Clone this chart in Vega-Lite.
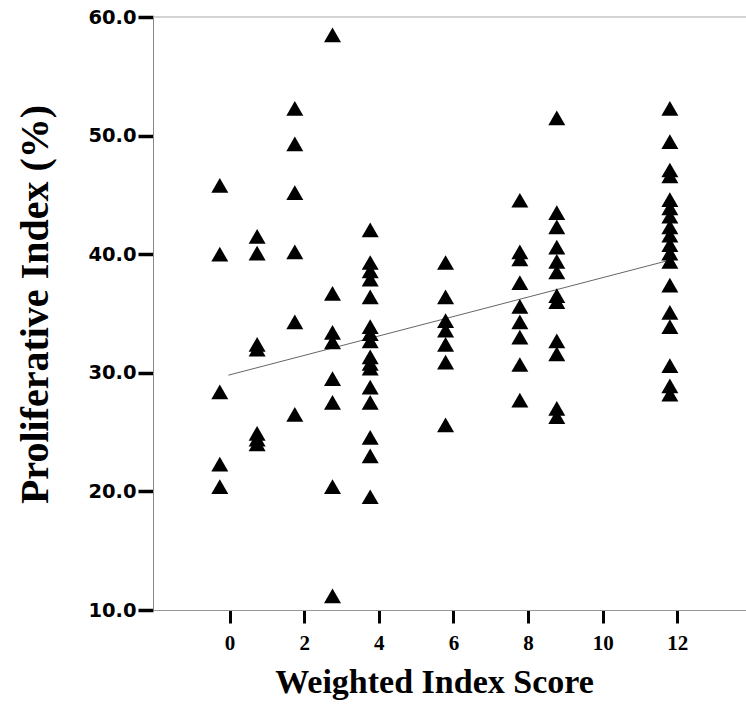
{
  "$schema": "https://vega.github.io/schema/vega-lite/v6.json",
  "width": 593,
  "height": 593,
  "autosize": {"type": "none"},
  "padding": {"left": 153, "top": 17, "right": 0, "bottom": 103},
  "background": "white",
  "config": {"view": {"stroke": null}},
  "datasets": {
    "points": [
      {"score": -0.26, "pi": 45.8}, {"score": -0.26, "pi": 40.0}, {"score": -0.26, "pi": 28.4}, {"score": -0.26, "pi": 22.3}, {"score": -0.26, "pi": 20.4},
      {"score": 0.74, "pi": 41.5}, {"score": 0.74, "pi": 40.1}, {"score": 0.74, "pi": 32.4}, {"score": 0.74, "pi": 32.0}, {"score": 0.74, "pi": 24.9}, {"score": 0.74, "pi": 24.4}, {"score": 0.74, "pi": 24.0},
      {"score": 1.75, "pi": 52.3}, {"score": 1.75, "pi": 49.3}, {"score": 1.75, "pi": 45.2}, {"score": 1.75, "pi": 40.2}, {"score": 1.75, "pi": 34.3}, {"score": 1.75, "pi": 26.5},
      {"score": 2.76, "pi": 58.5}, {"score": 2.76, "pi": 36.7}, {"score": 2.76, "pi": 33.4}, {"score": 2.76, "pi": 32.6}, {"score": 2.76, "pi": 29.5}, {"score": 2.76, "pi": 27.5}, {"score": 2.76, "pi": 20.4}, {"score": 2.76, "pi": 11.2},
      {"score": 3.77, "pi": 42.05}, {"score": 3.77, "pi": 39.3}, {"score": 3.77, "pi": 38.6}, {"score": 3.77, "pi": 37.9}, {"score": 3.77, "pi": 36.4}, {"score": 3.77, "pi": 33.9}, {"score": 3.77, "pi": 33.3}, {"score": 3.77, "pi": 32.7}, {"score": 3.77, "pi": 31.35}, {"score": 3.77, "pi": 30.8}, {"score": 3.77, "pi": 30.4}, {"score": 3.77, "pi": 28.8}, {"score": 3.77, "pi": 27.5}, {"score": 3.77, "pi": 24.55}, {"score": 3.77, "pi": 23.0}, {"score": 3.77, "pi": 19.55},
      {"score": 5.79, "pi": 39.3}, {"score": 5.79, "pi": 36.4}, {"score": 5.79, "pi": 34.4}, {"score": 5.79, "pi": 33.6}, {"score": 5.79, "pi": 32.4}, {"score": 5.79, "pi": 30.9}, {"score": 5.79, "pi": 25.6},
      {"score": 7.78, "pi": 44.55}, {"score": 7.78, "pi": 40.2}, {"score": 7.78, "pi": 39.6}, {"score": 7.78, "pi": 37.6}, {"score": 7.78, "pi": 35.6}, {"score": 7.78, "pi": 34.3}, {"score": 7.78, "pi": 33.0}, {"score": 7.78, "pi": 30.7}, {"score": 7.78, "pi": 27.7},
      {"score": 8.77, "pi": 51.5}, {"score": 8.77, "pi": 43.5}, {"score": 8.77, "pi": 42.3}, {"score": 8.77, "pi": 40.6}, {"score": 8.77, "pi": 39.4}, {"score": 8.77, "pi": 38.5}, {"score": 8.77, "pi": 36.5}, {"score": 8.77, "pi": 36.0}, {"score": 8.77, "pi": 32.7}, {"score": 8.77, "pi": 31.6}, {"score": 8.77, "pi": 27.0}, {"score": 8.77, "pi": 26.3},
      {"score": 11.8, "pi": 52.3}, {"score": 11.8, "pi": 49.5}, {"score": 11.8, "pi": 47.1}, {"score": 11.8, "pi": 46.6}, {"score": 11.8, "pi": 44.6}, {"score": 11.8, "pi": 43.9}, {"score": 11.8, "pi": 43.2}, {"score": 11.8, "pi": 42.3}, {"score": 11.8, "pi": 41.6}, {"score": 11.8, "pi": 40.8}, {"score": 11.8, "pi": 40.1}, {"score": 11.8, "pi": 39.4}, {"score": 11.8, "pi": 37.4}, {"score": 11.8, "pi": 35.1}, {"score": 11.8, "pi": 33.9}, {"score": 11.8, "pi": 30.6}, {"score": 11.8, "pi": 28.9}, {"score": 11.8, "pi": 28.2}
    ],
    "fit": [
      {"score": -0.03, "pi": 29.8},
      {"score": 11.8, "pi": 39.5}
    ],
    "top": [
      {"pi": 60}
    ]
  },
  "layer": [
    {
      "data": {"name": "top"},
      "mark": {"type": "rule", "color": "#a8a8a8", "strokeWidth": 1},
      "encoding": {"y": {"field": "pi", "type": "quantitative"}}
    },
    {
      "data": {"name": "fit"},
      "mark": {"type": "line", "color": "#666666", "strokeWidth": 1},
      "encoding": {
        "x": {"field": "score", "type": "quantitative"},
        "y": {"field": "pi", "type": "quantitative"}
      }
    },
    {
      "data": {"name": "points"},
      "mark": {"type": "point", "shape": "triangle-up", "filled": true, "color": "black", "opacity": 1, "size": 289},
      "encoding": {
        "x": {
          "field": "score",
          "type": "quantitative",
          "scale": {"domain": [-2.05, 13.84], "nice": false, "zero": false},
          "axis": {
            "values": [0, 2, 4, 6, 8, 10, 12],
            "title": "Weighted Index Score",
            "titleFont": "Liberation Serif",
            "titleFontSize": 34,
            "titleFontWeight": "bold",
            "titleColor": "black",
            "titleX": 281,
            "titleY": 82,
            "titleBaseline": "alphabetic",
            "labelFont": "Liberation Serif",
            "labelFontSize": 21,
            "labelFontWeight": "bold",
            "labelColor": "black",
            "labelPadding": 9,
            "labelFlush": false,
            "tickSize": 13,
            "tickWidth": 3,
            "tickColor": "black",
            "domainColor": "#999999",
            "domainWidth": 1,
            "grid": false
          }
        },
        "y": {
          "field": "pi",
          "type": "quantitative",
          "scale": {"domain": [10, 60], "nice": false, "zero": false},
          "axis": {
            "values": [10, 20, 30, 40, 50, 60],
            "format": ".1f",
            "title": "Proliferative Index (%)",
            "titleFont": "Liberation Serif",
            "titleFontSize": 40,
            "titleFontWeight": "bold",
            "titleColor": "black",
            "titleAngle": 270,
            "titleAlign": "center",
            "titleBaseline": "alphabetic",
            "titleX": -106,
            "titleY": 287,
            "labelFont": "DejaVu Sans",
            "labelFontSize": 19.5,
            "labelFontWeight": "bold",
            "labelColor": "black",
            "labelPadding": 2,
            "labelFlush": false,
            "tickSize": 15,
            "tickWidth": 3.5,
            "tickColor": "black",
            "domainColor": "#888888",
            "domainWidth": 1,
            "grid": false
          }
        }
      }
    }
  ]
}
